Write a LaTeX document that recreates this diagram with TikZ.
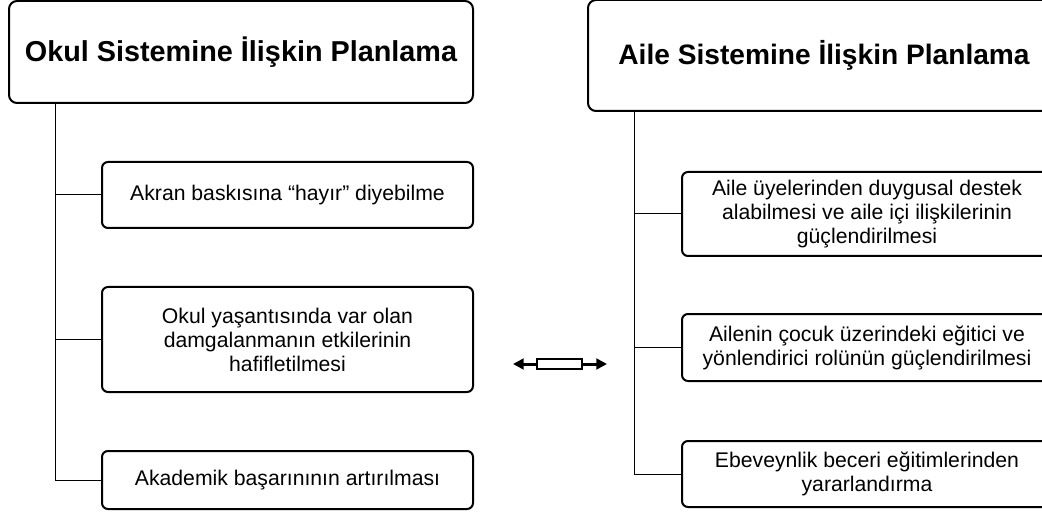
\documentclass[tikz,border=0pt]{standalone}
\usepackage{fontspec}
\setmainfont{Liberation Sans}
\usepackage{tikz}
\usetikzlibrary{arrows.meta,positioning}

\begin{document}
\begin{tikzpicture}[
  x=0.75pt, y=-0.75pt,
  head/.style={draw=black, line width=1.5pt, rounded corners=6pt, align=center,
    font=\fontsize{21.6}{26}\selectfont\bfseries, inner sep=0pt},
  item/.style={draw=black, line width=1.5pt, rounded corners=4.5pt, align=center,
    font=\fontsize{15.9}{18}\selectfont, inner sep=0pt},
  link/.style={draw=black, line width=0.75pt},
  bond/.style={draw=black, line width=2.25pt, -{Triangle[length=8pt,width=8pt]}}
]
\useasboundingbox (0,0) rectangle (1042,513);
\clip (0,0) rectangle (1042,513);

%============ OKUL ============
\node[head, minimum width=348pt, minimum height=76.5pt] (okul) at (241,52) {Okul Sistemine İlişkin Planlama};
\node[item, minimum width=278.25pt, minimum height=49.5pt] (o1) at (287.5,195) {Akran baskısına “hayır” diyebilme};
\node[item, minimum width=278.25pt, minimum height=78.75pt] (o2) at (287.5,339.5)
  {Okul yaşantısında var olan\\damgalanmanın etkilerinin\\hafifletilmesi};
\node[item, minimum width=278.25pt, minimum height=43.5pt] (o3) at (287.5,480) {Akademik başarınının artırılması};
% tree
\coordinate (oroot) at ([xshift=35.25pt]okul.south west);
\draw[link] (oroot) |- (o3.west);
\draw[link] (oroot |- o1.west) -- (o1.west);
\draw[link] (oroot |- o2.west) -- (o2.west);

%============ AILE ============
% right edges run past the page
\node[head, font=\fontsize{21.1}{26}\selectfont\bfseries, minimum width=354pt, minimum height=83.25pt] (aile) at (824,55.5) {Aile Sistemine İlişkin Planlama};
\node[item, minimum width=277.5pt, minimum height=63pt] (a1) at (867,214)
  {Aile üyelerinden duygusal destek\\alabilmesi ve aile içi ilişkilerinin\\güçlendirilmesi};
\node[item, minimum width=277.5pt, minimum height=50.25pt] (a2) at (867,347.5)
  {Ailenin çocuk üzerindeki eğitici ve\\yönlendirici rolünün güçlendirilmesi};
\node[item, minimum width=277.5pt, minimum height=49.5pt] (a3) at (867,474)
  {Ebeveynlik beceri eğitimlerinden\\yararlandırma};
% tree
\coordinate (aroot) at ([xshift=35.25pt]aile.south west);
\draw[link] (aroot) |- (a3.west);
\draw[link] (aroot |- a1.west) -- (a1.west);
\draw[link] (aroot |- a2.west) -- (a2.west);

%============ BAG ============
\node[draw=black, line width=1.5pt, fill=white, minimum width=33.75pt, minimum height=7.5pt, inner sep=0pt] (bag) at (559.5,364) {};
\coordinate (bagl) at (513,364);
\coordinate (bagr) at (607,364);
\draw[bond] (bag.west) -- (bagl);
\draw[bond] (bag.east) -- (bagr);

\end{tikzpicture}
\end{document}
